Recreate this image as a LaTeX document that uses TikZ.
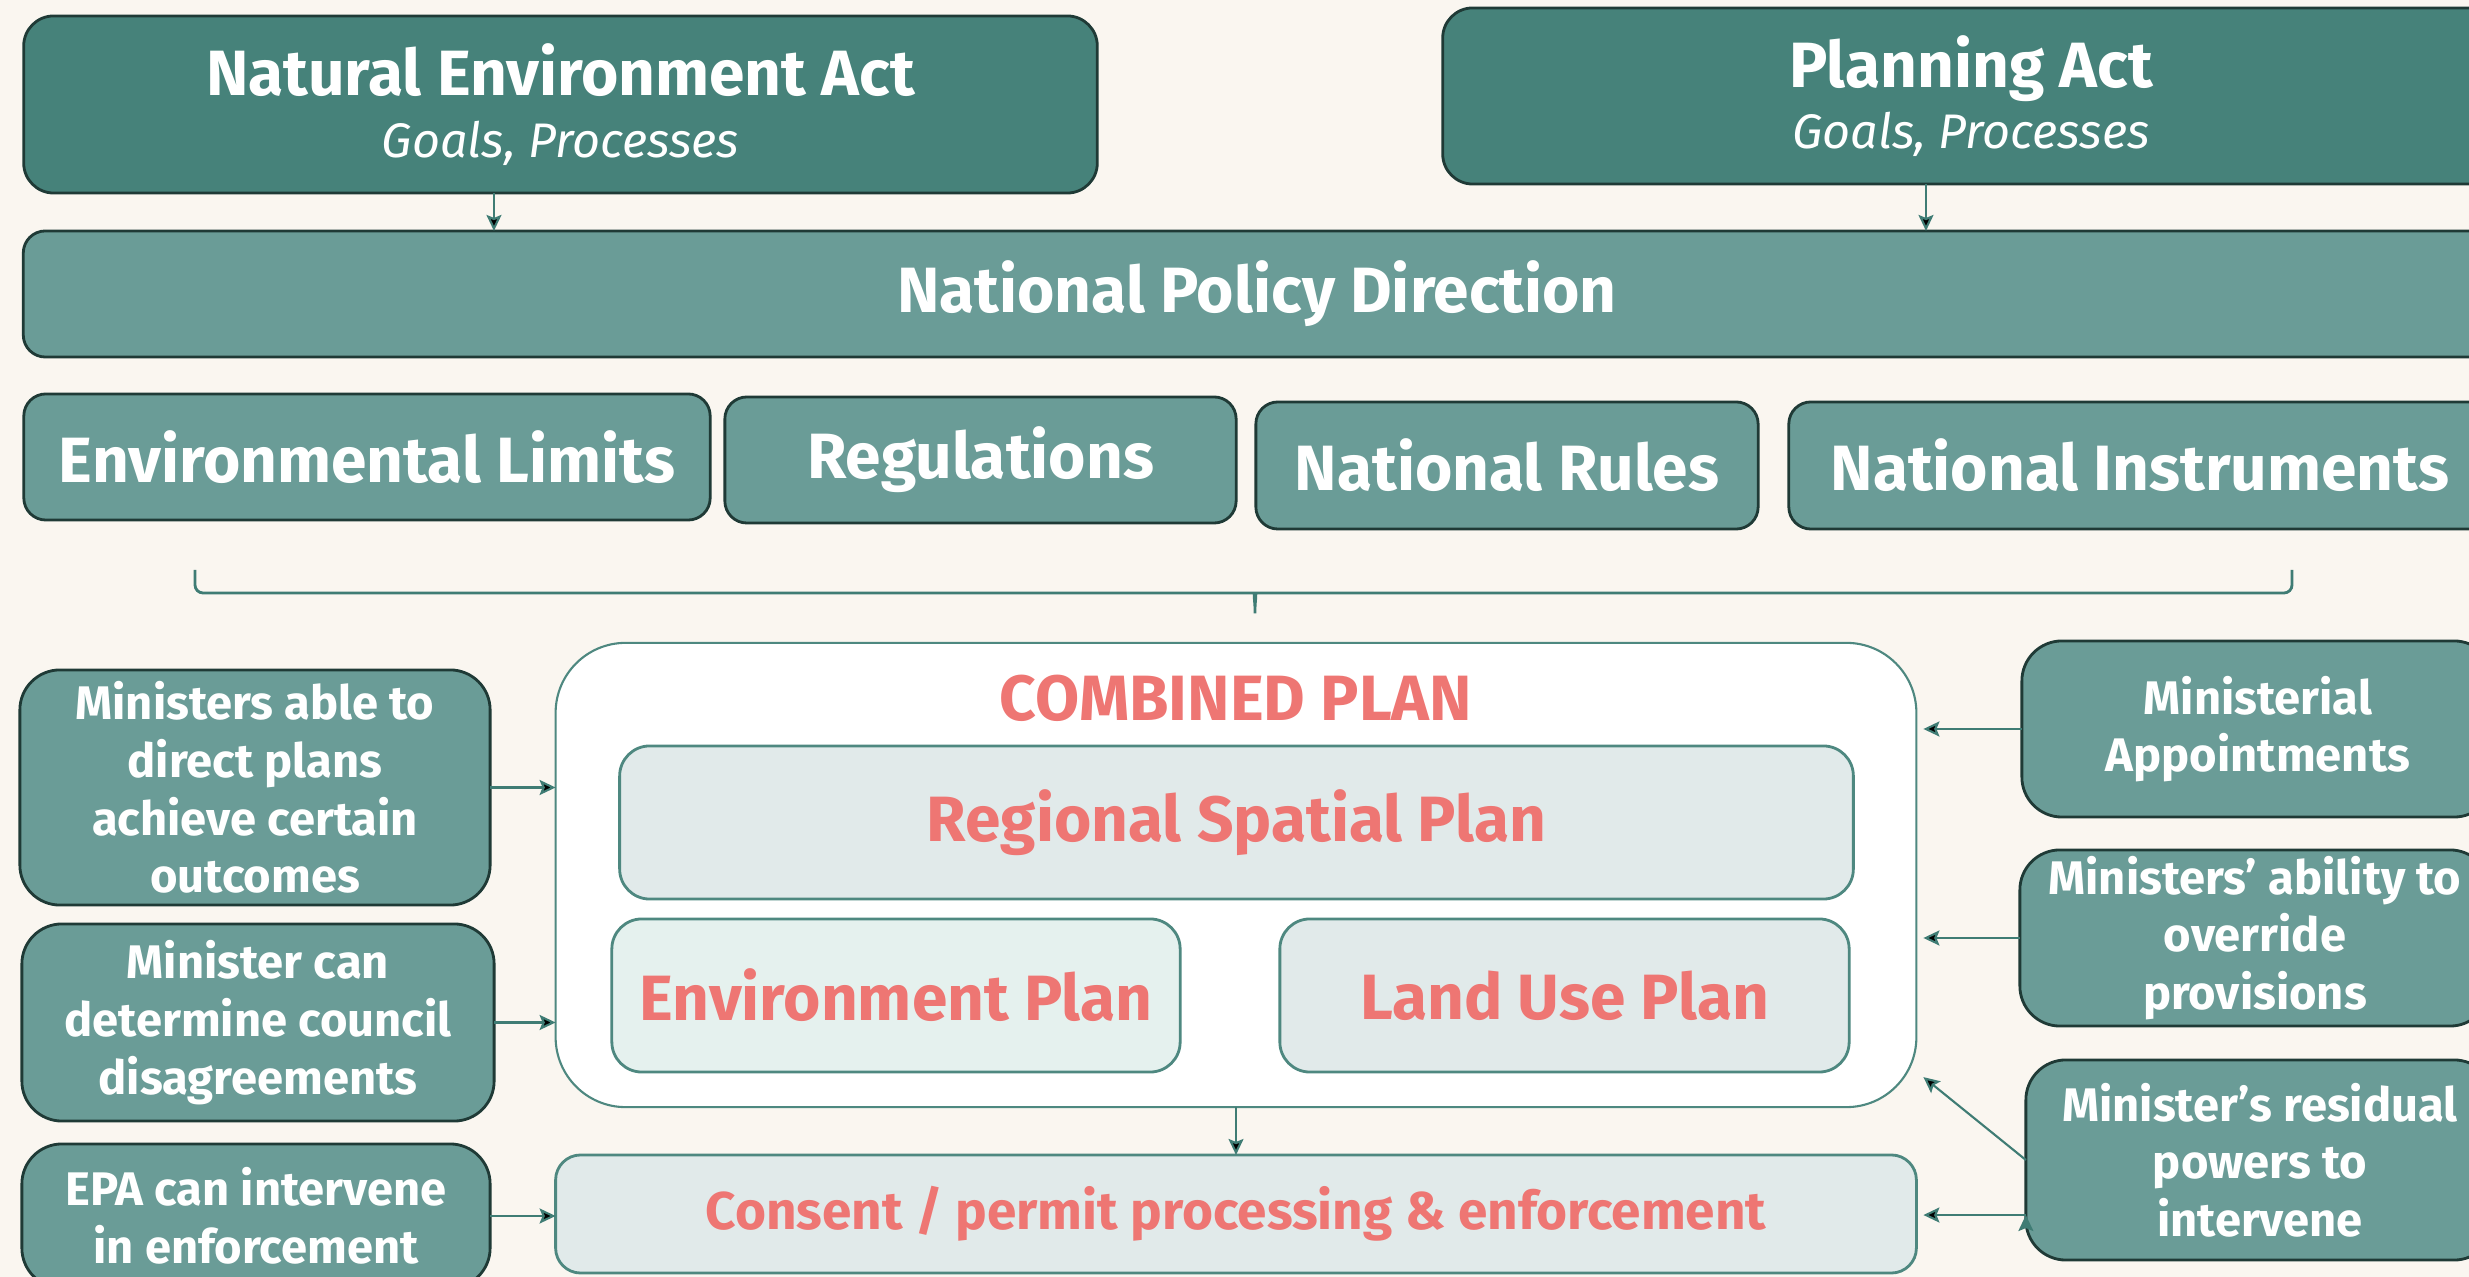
\documentclass[tikz,border=0pt]{standalone}
\usepackage{fontspec}
\setmainfont{Fira Sans}
\usepackage{tikz}
\usetikzlibrary{positioning}
\usetikzlibrary{arrows.meta}

\definecolor{cream}{HTML}{FAF6F0}
\definecolor{darkteal}{HTML}{46827A}
\definecolor{midteal}{HTML}{6A9C97}
\definecolor{boxline}{HTML}{1F3A36}
\definecolor{salmon}{HTML}{EE7673}
\definecolor{planfill}{HTML}{E1EAEA}
\definecolor{envfill}{HTML}{E5F1EE}
\definecolor{planline}{HTML}{4E8880}
\definecolor{arrowcol}{HTML}{3F7C74}

\newcommand{\actsub}[1]{{\fontsize{13.8}{17.4}\selectfont\mdseries\itshape #1}}

\begin{document}
\begin{tikzpicture}[x=0.01cm,y=-0.01cm,
    box/.style={draw=boxline,line width=0.8pt,fill=midteal,text=white,inner sep=0pt,outer sep=0pt,
                rounded corners=0.22cm,font=\fontsize{18.2}{17.4}\selectfont\bfseries,align=center},
    act/.style={box,fill=darkteal,rounded corners=0.3cm},
    side/.style={box,rounded corners=0.4cm,font=\fontsize{13.4}{16.4}\selectfont\bfseries},
    plan/.style={draw=planline,line width=0.8pt,fill=planfill,text=salmon,inner sep=0pt,outer sep=0pt,
                 rounded corners=0.3cm,font=\fontsize{18.2}{22}\selectfont\bfseries},
    arr/.style={draw=arrowcol,line width=0.6pt,-{Stealth[length=1.6mm,width=1.5mm,inset=0.3mm]}},
    gap/.style={shorten >=0.07cm}]
        % \draw[help lines] (0,0) grid[step=100] (2469,1277);
      \fill[cream] (0,0) rectangle (2469,1277);
      \useasboundingbox (0,0) rectangle (2469,1277);

      % acts and national direction
      \node[act,minimum width=10.73cm,minimum height=1.77cm] (act_1) at (560.5,104.5)
           {Natural Environment Act\\\actsub{Goals, Processes}};
      \node[act,minimum width=10.56cm,minimum height=1.76cm] (act_2) at (1971,96)
           {Planning Act\\\actsub{Goals, Processes}};
      \node[box,minimum width=24.66cm,minimum height=1.26cm] (npd) at (1257,294) {National Policy Direction};

      \node[box,minimum width=6.86cm,minimum height=1.26cm] (inst_1) at (367,457)    {Environmental Limits};
      \node[box,minimum width=5.11cm,minimum height=1.26cm] (inst_2) at (980.5,460)  {Regulations};
      \node[box,minimum width=5.02cm,minimum height=1.27cm] (inst_3) at (1507,465.5) {National Rules};
      \node[box,minimum width=7.02cm,minimum height=1.27cm] (inst_4) at (2140,465.5) {National Instruments};

      \draw[arrowcol,line width=0.8pt,rounded corners=0.08cm]
           (195,570) |- (1247,593) .. controls (1253,593) and (1255,600) .. (1255,618)
                               .. controls (1255,600) and (1257,593) .. (1263,593) -| (2292,570);

      % combined plan
      \node[draw=planline,line width=0.6pt,fill=white,rounded corners=0.7cm,
            minimum width=13.6cm,minimum height=4.64cm,inner sep=0pt,outer sep=0pt] (plan) at (1236,875) {};
      \node[text=salmon,font=\fontsize{18.2}{22}\selectfont\bfseries] (plan_t) at (1236,698) {COMBINED PLAN};
      \node[plan,minimum width=12.33cm,minimum height=1.53cm] (plan_1) at (1236.5,822.5) {Regional Spatial Plan};
      \node[plan,fill=envfill,minimum width=5.68cm,minimum height=1.53cm] (plan_2) at (896,995.5) {Environment Plan};
      \node[plan,minimum width=5.69cm,minimum height=1.53cm] (plan_3) at (1564.5,995.5) {Land Use Plan};
      \node[plan,rounded corners=0.25cm,font=\fontsize{15.1}{18}\selectfont\bfseries,
            minimum width=13.6cm,minimum height=1.18cm] (cons) at (1236,1214)
           {Consent / permit processing \& enforcement};

      % ministerial powers
      \node[side,minimum width=4.70cm,minimum height=2.35cm] (min_1) at (255,787.5)
           {Ministers able to\\direct plans\\achieve certain\\outcomes};
      \node[side,minimum width=4.72cm,minimum height=1.97cm] (min_2) at (258,1022.5)
           {Minister can\\determine council\\disagreements};
      \node[side,minimum width=4.68cm,minimum height=1.44cm] (min_3) at (256,1216)
           {EPA can intervene\\in enforcement};
      \node[side,minimum width=4.72cm,minimum height=1.76cm] (min_4) at (2258,729)
           {Ministerial\\Appointments};
      \node[side,minimum width=4.70cm,minimum height=1.76cm] (min_5) at (2255,938)
           {Ministers’ ability to\\override\\provisions};
      \node[side,minimum width=4.68cm,minimum height=2.00cm] (min_6) at (2260,1160)
           {Minister’s residual\\powers to\\intervene};

      \path[arr] ([xshift=-0.665cm]act_1.south) edge ([xshift=-0.665cm]act_1.south |- npd.north)
                 ([xshift=-0.45cm]act_2.south)  edge ([xshift=-0.45cm]act_2.south |- npd.north)
                 (plan)  edge (cons)
                 (min_1) edge (min_1 -| plan.west)
                 (min_2) edge (min_2 -| plan.west)
                 (min_3) edge (min_3 -| cons.west)
                 (min_4) edge [gap] (min_4 -| plan.east)
                 (min_5) edge [gap] (min_5 -| plan.east)
                 (min_6.west) edge ([xshift=0.07cm,yshift=0.3cm]plan.south east)
                 ([yshift=-0.55cm]min_6.west) edge [gap] ([yshift=-0.55cm]min_6.west -| cons.east)
                 ;
    \end{tikzpicture}
\end{document}
